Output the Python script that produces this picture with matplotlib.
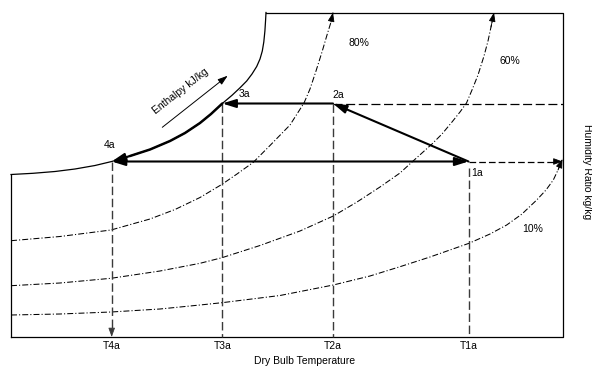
import matplotlib
matplotlib.use("Agg")
import matplotlib.pyplot as plt

plt.rcParams['font.family'] = ['Liberation Sans', 'DejaVu Sans']
plt.rcParams['lines.scale_dashes'] = False

# ---------------- data (dry-bulb temperature T, humidity ratio W; schematic units) ----------------
T_MAX = 551.5          # right edge of chart
W_MAX = 324.5          # top edge of chart

# saturation (100%) curve
sat_T = [0, 22, 44, 64, 84, 100.7, 119, 139, 159, 174, 189, 200, 211.3, 221, 229, 235.7, 241, 245.7, 249, 251.3, 252.8, 253.9, 254.6, 255]
sat_W = [162.5, 163.7, 165.5, 168, 171.5, 175.5, 181, 187.5, 196, 204, 214, 223, 233.5, 241.7, 249.2, 256, 263, 270.5, 278, 286, 295, 306, 317, 324.5]

# relative humidity curves
rh80_T = [0, 49, 100, 139, 164, 189, 211, 226, 242.3, 259, 279, 286, 293, 299, 305, 311, 316, 320, 322]
rh80_W = [96.3, 100.5, 107, 118, 127.5, 139.5, 152.7, 163, 174.7, 191.5, 212, 223, 234, 248, 266, 285, 302, 315, 324.5]

rh60_T = [0, 49, 100, 149, 189, 211, 249, 289, 322.3, 346, 369, 389, 401, 411, 421, 431, 441, 449, 455.5, 461, 467, 473, 477, 480, 483]
rh60_W = [51.3, 54, 58.7, 66, 73.7, 79.3, 91.5, 106, 121, 135, 150, 164, 175, 184, 193, 203, 215, 225, 234, 247, 262, 281, 296, 310, 324.5]

rh10_T = [0, 49, 100, 149, 189, 211, 269, 322.3, 359, 389, 419, 458, 479, 495.7, 511, 525.7, 535, 542.3, 547, 551.5]
rh10_W = [22, 23, 25, 28, 32, 34.3, 41.5, 52, 61, 70.3, 80, 93.7, 103, 112, 123, 137, 147, 157, 167, 178]

rh_labels = ['80%', '60%', '10%']
rh_label_pos = [(347.5, 294.5), (499, 276), (521.5, 108)]

# state points 1a..4a
state_names = ['1a', '2a', '3a', '4a']
state_T = [457.5, 322, 211.3, 100.7]
state_W = [175.5, 233.5, 233.5, 175.5]
state_label_pos = [(466.5, 163.5), (327, 242.5), (233, 243), (99, 192)]

tick_labels = ['T1a', 'T2a', 'T3a', 'T4a']

x_title = 'Dry Bulb Temperature'
y_title = 'Humidity Ratio kg/kg'
enthalpy_label = 'Enthalpy kJ/kg'
enthalpy_arrow = [(151.3, 209.7), (216.7, 261.3)]

# ---------------- figure ----------------
fig = plt.figure(figsize=(5.92, 3.67), dpi=100)
ax = fig.add_axes([0, 0, 1, 1])
ax.set_xlim(-11, 581)
ax.set_ylim(-30, 337)
ax.axis('off')

FS = 7.5
K = 'black'
DASH_V = (0, (6.1, 2.6))
DASHDOT = (0, (4.3, 1.5, 0.8, 1.5))

# chart outline: bottom, right, top, saturation curve, left
ax.plot([0, T_MAX, T_MAX, sat_T[-1]], [0, 0, W_MAX, W_MAX], color=K, lw=0.9)
ax.plot(sat_T, sat_W, color=K, lw=0.9)
ax.plot([0, 0], [0, sat_W[0]], color=K, lw=0.9)

# RH curves
def head(p0, p1, color=K, hl=0.55, hw=0.2, lw=0.6):
    ax.annotate('', xy=p1, xytext=p0,
                arrowprops=dict(arrowstyle=f'-|>,head_length={hl},head_width={hw}',
                                color=color, lw=lw, shrinkA=0, shrinkB=0, mutation_scale=10))

for tt, ww in [(rh80_T, rh80_W), (rh60_T, rh60_W), (rh10_T, rh10_W)]:
    ax.plot(tt, ww, color=K, lw=0.75, linestyle=DASHDOT)
    head((tt[-2], ww[-2]), (tt[-1], ww[-1]))

for lab, (x, y) in zip(rh_labels, rh_label_pos):
    ax.text(x, y, lab, fontsize=FS, ha='center', va='center')

T1, T2, T3, T4 = state_T
W1, W2, W3, W4 = state_W

# dashed projections to the right edge
ax.plot([T2, T_MAX], [W2, W2], color=K, lw=0.9, linestyle=(0, (6.5, 2.6)))
ax.plot([T1, T_MAX - 6], [W1, W1], color=K, lw=0.9, linestyle=(0, (4.8, 2.2)))
head((T_MAX - 8, W1), (T_MAX, W1))

# dashed verticals down to temperature axis
vcol = '#3a3a3a'
ax.plot([T4, T4], [W4, 6], color=vcol, lw=1.0, linestyle=DASH_V)
head((T4, 8), (T4, 0), color=vcol)
ax.plot([T3, T3], [W3, 0], color=vcol, lw=1.0, linestyle=DASH_V)
ax.plot([T2, T2], [W2, 0], color=vcol, lw=1.0, linestyle=DASH_V)
ax.plot([T1, T1], [W1 - 6.5, 0], color=vcol, lw=1.0, linestyle=DASH_V)

# process arrows
def thick(p0, p1, style='-|>'):
    ax.annotate('', xy=p1, xytext=p0,
                arrowprops=dict(arrowstyle=f'{style},head_length=0.8,head_width=0.25',
                                color=K, lw=1.5, shrinkA=0, shrinkB=0, mutation_scale=10))

thick((T1, W1), (T4, W4), style='<|-|>')
thick((T1, W1), (T2, W2))
thick((T2, W2), (T3, W3))
i3 = sat_T.index(T3)
i4 = sat_T.index(T4)
ax.plot(sat_T[i4 + 1:i3 + 1], sat_W[i4 + 1:i3 + 1], color=K, lw=1.8, solid_capstyle='round')
thick((sat_T[i4 + 1], sat_W[i4 + 1]), (T4, W4))

for name, (x, y) in zip(state_names, state_label_pos):
    ax.text(x, y, name, fontsize=FS, ha='center', va='center')

# temperature tick labels
for lab, t in zip(tick_labels, state_T):
    ax.text(t, -9, lab, fontsize=FS, ha='center', va='center')

ax.text(293.5, -24, x_title, fontsize=FS, ha='center', va='center')
ax.text(576, 165, y_title, fontsize=FS, ha='center', va='center', rotation=-90)

# enthalpy indicator
ax.annotate('', xy=enthalpy_arrow[1], xytext=enthalpy_arrow[0],
            arrowprops=dict(arrowstyle='-|>,head_length=0.6,head_width=0.2',
                            color=K, lw=0.7, shrinkA=0, shrinkB=0, mutation_scale=10))
ax.text(170, 245.5, enthalpy_label, fontsize=FS, ha='center', va='center',
        rotation=38, rotation_mode='anchor')

fig.savefig('out.png', dpi=100)
